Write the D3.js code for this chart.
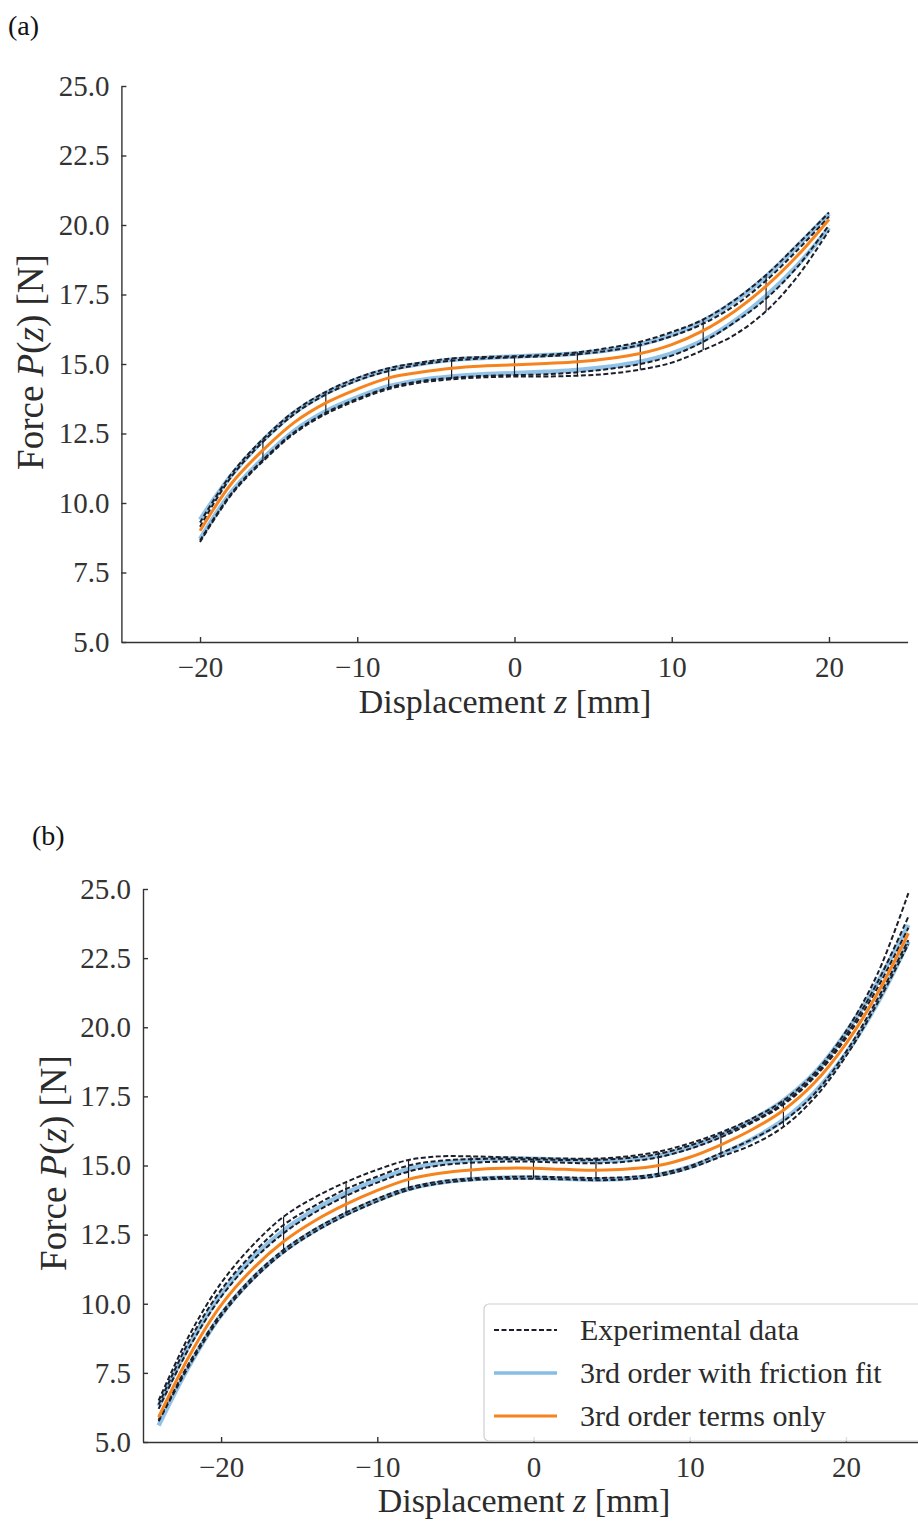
<!DOCTYPE html>
<html>
<head>
<meta charset="utf-8">
<style>
  body { margin: 0; background: #fff; }
  text { font-family: "Liberation Serif", serif; fill: #2b2b2b; }
  .axis path, .axis line { stroke: #333; stroke-width: 1.4px; }
  .axis text { font-size: 29px; fill: #333; font-family: "Liberation Serif", serif; }
</style>
</head>
<body>
<div id="chart-area"></div>

<script src="https://d3js.org/d3.v7.min.js"></script>
<script>
    // ---- panel (a): displacement -20..20, every 2 mm ----
    const zA = d3.range(-20, 20.1, 2);
    const expA1 = [9.3, 11.05, 12.3, 13.3, 14.0, 14.5, 14.85, 15.05, 15.2, 15.25, 15.28, 15.33, 15.42, 15.58, 15.8, 16.15, 16.6, 17.3, 18.2, 19.3, 20.45];
    const expA2 = [9.15, 10.95, 12.2, 13.2, 13.9, 14.4, 14.75, 14.98, 15.12, 15.2, 15.24, 15.28, 15.35, 15.48, 15.68, 16.0, 16.45, 17.1, 18.0, 19.1, 20.3];
    const expA3 = [8.65, 10.35, 11.55, 12.55, 13.25, 13.75, 14.15, 14.38, 14.5, 14.57, 14.6, 14.63, 14.7, 14.82, 15.0, 15.3, 15.8, 16.5, 17.35, 18.5, 20.0];
    const expA4 = [8.6, 10.3, 11.5, 12.5, 13.2, 13.7, 14.1, 14.33, 14.45, 14.52, 14.55, 14.55, 14.58, 14.65, 14.8, 15.05, 15.5, 16.05, 16.9, 18.15, 19.8];
    const blueUpA = [9.4, 11.0, 12.25, 13.25, 13.95, 14.45, 14.8, 15.0, 15.15, 15.22, 15.27, 15.32, 15.38, 15.5, 15.7, 16.05, 16.55, 17.25, 18.15, 19.25, 20.4];
    const blueLoA = [8.7, 10.4, 11.6, 12.6, 13.3, 13.8, 14.2, 14.42, 14.55, 14.63, 14.67, 14.72, 14.78, 14.9, 15.08, 15.38, 15.85, 16.55, 17.45, 18.55, 19.9];
    const orangeA = [9.0, 10.7, 11.9, 12.9, 13.6, 14.1, 14.5, 14.7, 14.85, 14.93, 14.97, 15.02, 15.08, 15.2, 15.38, 15.7, 16.2, 16.9, 17.8, 18.9, 20.2];
    const stepsA = [-16, -12, -8, -4, 0, 4, 8, 12, 16];

    // ---- panel (b): displacement -24..24, every 2 mm ----
    const zB = d3.range(-24, 24.1, 2);
    const expB1 = [6.5, 8.9, 10.75, 12.1, 13.15, 13.85, 14.4, 14.85, 15.2, 15.33, 15.33, 15.3, 15.27, 15.25, 15.25, 15.33, 15.5, 15.8, 16.2, 16.7, 17.35, 18.35, 19.85, 21.9, 24.85];
    const expB2 = [6.35, 8.7, 10.5, 11.8, 12.85, 13.55, 14.15, 14.6, 15.0, 15.17, 15.23, 15.24, 15.22, 15.2, 15.2, 15.27, 15.42, 15.72, 16.12, 16.6, 17.25, 18.25, 19.7, 21.6, 24.0];
    const expB3 = [6.2, 8.45, 10.25, 11.55, 12.55, 13.3, 13.9, 14.38, 14.78, 15.0, 15.1, 15.14, 15.14, 15.1, 15.08, 15.14, 15.3, 15.6, 16.02, 16.55, 17.2, 18.2, 19.6, 21.4, 23.6];
    const expB4 = [5.8, 7.9, 9.65, 10.95, 11.95, 12.7, 13.3, 13.8, 14.2, 14.42, 14.53, 14.58, 14.6, 14.57, 14.55, 14.58, 14.7, 14.98, 15.45, 15.95, 16.6, 17.6, 19.1, 21.0, 23.15];
    const expB5 = [5.75, 7.8, 9.55, 10.85, 11.85, 12.6, 13.2, 13.7, 14.12, 14.35, 14.47, 14.52, 14.52, 14.5, 14.47, 14.5, 14.62, 14.9, 15.32, 15.75, 16.4, 17.45, 18.95, 20.85, 23.0];
    const blueUpB = [6.3, 8.55, 10.35, 11.65, 12.65, 13.4, 14.0, 14.48, 14.87, 15.08, 15.19, 15.24, 15.24, 15.2, 15.17, 15.21, 15.35, 15.66, 16.1, 16.65, 17.35, 18.35, 19.8, 21.6, 23.7];
    const blueLoB = [5.6, 7.8, 9.6, 10.9, 11.9, 12.65, 13.25, 13.75, 14.15, 14.38, 14.5, 14.56, 14.56, 14.52, 14.49, 14.53, 14.66, 14.95, 15.4, 15.95, 16.65, 17.65, 19.05, 20.85, 23.1];
    const orangeB = [5.9, 8.15, 9.95, 11.25, 12.25, 13.0, 13.6, 14.1, 14.5, 14.72, 14.84, 14.9, 14.9, 14.86, 14.83, 14.87, 15.0, 15.3, 15.75, 16.3, 17.0, 18.0, 19.4, 21.2, 23.4];
    const stepsB = [-16, -12, -8, -4, 0, 4, 8, 12, 16];

    const xTicks = [-20, -10, 0, 10, 20];
    const yTicks = [5, 7.5, 10, 12.5, 15, 17.5, 20, 22.5, 25];
    const legendLabels = ["Experimental data", "3rd order with friction fit", "3rd order terms only"];

    const dashColor = "#1c1f2a";
    const blueColor = "#86bde3";
    const orangeColor = "#f5841f";

    const svg = d3.select("#chart-area")
        .append("svg")
            .attr("width", 918)
            .attr("height", 1524);

    function drawPanel(p) {
        const x = d3.scaleLinear().domain([-25, 25]).range([p.x0, p.x1]);
        const y = d3.scaleLinear().domain([5, 25]).range([p.y1, p.y0]);
        const g = svg.append("g");

        const line = d3.line()
            .x((d, i) => x(p.z[i]))
            .y(d => y(d))
            .curve(d3.curveCatmullRom.alpha(0.5));

        // friction fit (two branches) underneath
        [p.blueUp, p.blueLo].forEach(s => {
            g.append("path").attr("d", line(s))
                .attr("fill", "none").attr("stroke", blueColor)
                .attr("stroke-width", 4.5).attr("opacity", 0.9);
        });
        // experimental loops
        p.exp.forEach(s => {
            g.append("path").attr("d", line(s))
                .attr("fill", "none").attr("stroke", dashColor)
                .attr("stroke-width", 2).attr("stroke-dasharray", "5,2.5");
        });
        // short vertical jumps between branches
        p.steps.forEach(z => {
            const i = p.z.indexOf(z);
            g.append("line")
                .attr("x1", x(z)).attr("x2", x(z))
                .attr("y1", y(p.exp[0][i])).attr("y2", y(p.exp[p.exp.length - 1][i]))
                .attr("stroke", dashColor).attr("stroke-width", 1.2);
        });
        // 3rd order only
        g.append("path").attr("d", line(p.orange))
            .attr("fill", "none").attr("stroke", orangeColor)
            .attr("stroke-width", 3);

        // axes (left + bottom only, ticks inward)
        g.append("g").attr("class", "axis")
            .attr("transform", `translate(0,${p.y1})`)
            .call(d3.axisBottom(x).tickValues(xTicks).tickSize(-5).tickSizeOuter(0)
                .tickPadding(14).tickFormat(d3.format("d")));
        g.append("g").attr("class", "axis")
            .attr("transform", `translate(${p.x0},0)`)
            .call(d3.axisLeft(y).tickValues(yTicks).tickSize(-5).tickSizeOuter(0)
                .tickPadding(12).tickFormat(d3.format(".1f")));

        // axis titles
        const xl = g.append("text")
            .attr("x", p.xLabel[0]).attr("y", p.xLabel[1])
            .attr("text-anchor", "middle").style("font-size", "34px");
        xl.append("tspan").text("Displacement ");
        xl.append("tspan").style("font-style", "italic").text("z");
        xl.append("tspan").text(" [mm]");

        const yl = g.append("text")
            .attr("transform", `translate(${p.yLabel[0]},${p.yLabel[1]}) rotate(-90)`)
            .attr("text-anchor", "middle").style("font-size", "37px");
        yl.append("tspan").text("Force ");
        yl.append("tspan").style("font-style", "italic").text("P");
        yl.append("tspan").text("(");
        yl.append("tspan").style("font-style", "italic").text("z");
        yl.append("tspan").text(") [N]");

        svg.append("text")
            .attr("x", p.tag[0]).attr("y", p.tag[1])
            .style("font-size", "28px").style("fill", "#111")
            .text(p.tagText);

        return { x, y, g };
    }

    drawPanel({
        x0: 121.4, x1: 907.6, y0: 86, y1: 642,
        z: zA, exp: [expA1, expA2, expA3, expA4], blueUp: blueUpA, blueLo: blueLoA,
        orange: orangeA, steps: stepsA,
        xLabel: [505, 713], yLabel: [43, 362], tag: [8, 35], tagText: "(a)"
    });

    drawPanel({
        x0: 143, x1: 924, y0: 889, y1: 1442,
        z: zB, exp: [expB1, expB2, expB3, expB4, expB5], blueUp: blueUpB, blueLo: blueLoB,
        orange: orangeB, steps: stepsB,
        xLabel: [524, 1512], yLabel: [66, 1163], tag: [32, 845], tagText: "(b)"
    });

    // legend (semi-transparent frame, lower right)
    const lg = svg.append("g");
    lg.append("rect")
        .attr("x", 484).attr("y", 1304).attr("width", 450).attr("height", 137)
        .attr("rx", 5)
        .attr("fill", "#fff").attr("fill-opacity", 0.85)
        .attr("stroke", "#cfcfcf").attr("stroke-width", 1.2);
    const legendStyles = [
        { stroke: dashColor, width: 2, dash: "5,2.5" },
        { stroke: blueColor, width: 3.5, dash: null },
        { stroke: orangeColor, width: 3, dash: null }
    ];
    legendLabels.forEach((label, i) => {
        const yy = 1330 + i * 43;
        lg.append("line")
            .attr("x1", 494).attr("x2", 557).attr("y1", yy).attr("y2", yy)
            .attr("stroke", legendStyles[i].stroke)
            .attr("stroke-width", legendStyles[i].width)
            .attr("stroke-dasharray", legendStyles[i].dash);
        lg.append("text")
            .attr("x", 580).attr("y", yy + 10)
            .style("font-size", "30px")
            .text(label);
    });
</script>
</body>
</html>
